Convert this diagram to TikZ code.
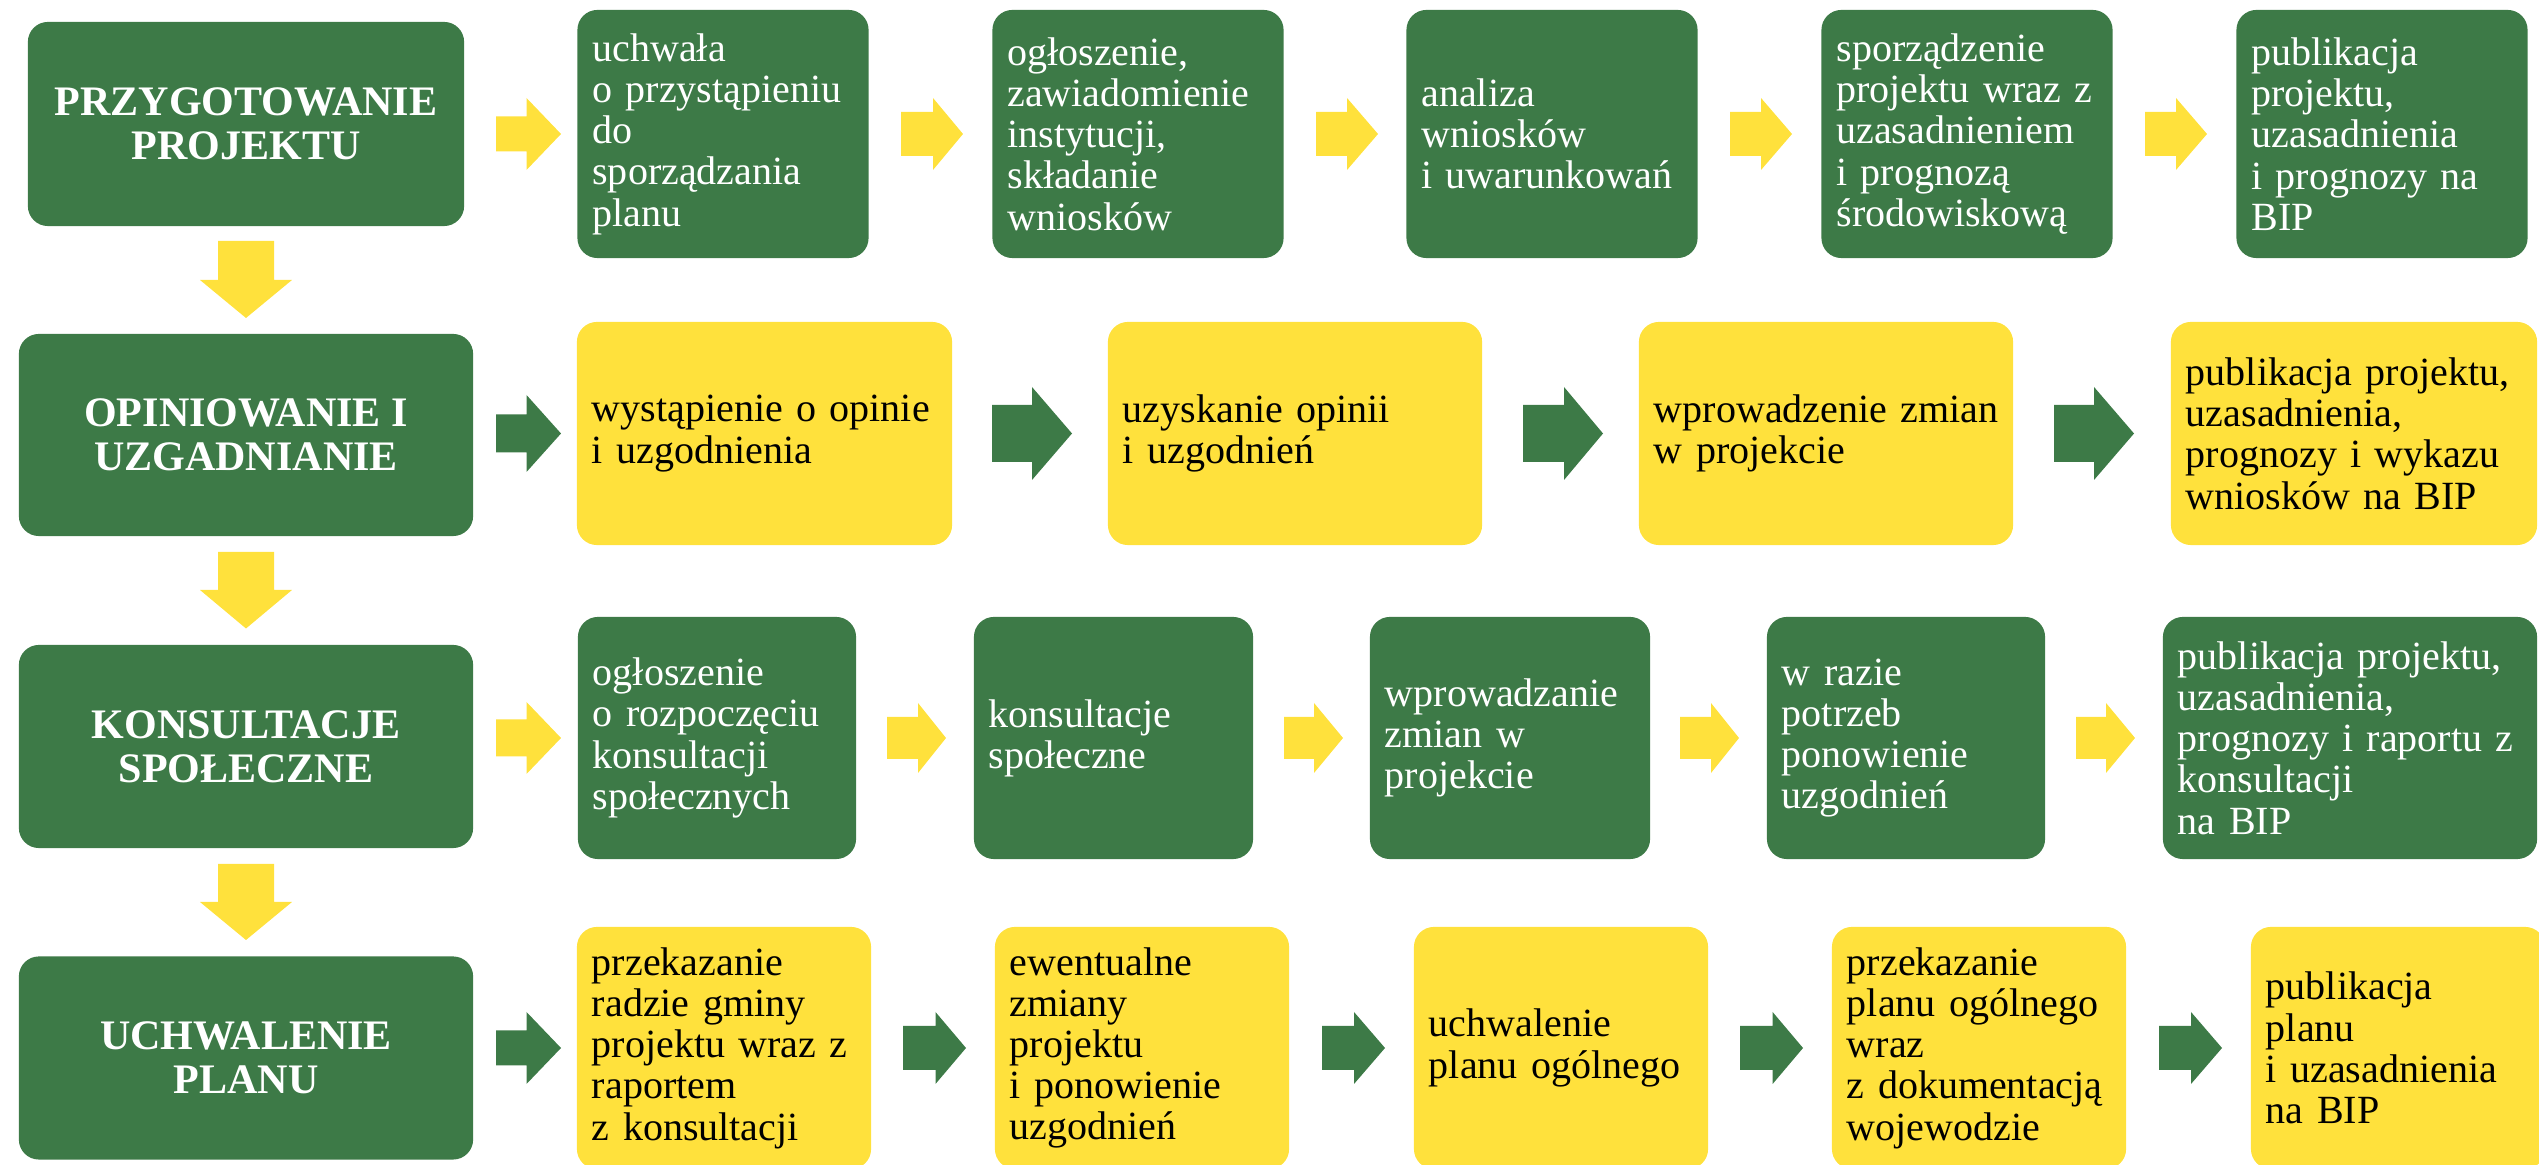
\documentclass[tikz,border=0pt]{standalone}
\usepackage{fontspec}
\setmainfont{Liberation Serif}
\definecolor{zielony}{RGB}{61,122,71}
\definecolor{zolty}{RGB}{255,225,60}

% block arrows: colour, tail x, head x, tip x, mid y, shaft half, head half
\newcommand{\rblock}[7]{%
  \fill[#1] (#2,#5-#6) -- (#3,#5-#6) -- (#3,#5-#7) -- (#4,#5)
    -- (#3,#5+#7) -- (#3,#5+#6) -- (#2,#5+#6) -- cycle;}
% down arrows below the stage boxes: top y, head y, tip y
\newcommand{\dblock}[3]{%
  \fill[zolty] (218,#1) -- (274,#1) -- (274,#2) -- (292,#2) -- (246,#3)
    -- (200,#2) -- (218,#2) -- cycle;}

\tikzset{
  stage/.style = {rectangle, rounded corners=0.2cm, fill=zielony, text=white,
    inner sep=0pt, align=center,
    font=\bfseries\fontsize{11.95}{12.6}\selectfont},
  krok/.style = {rectangle, rounded corners=0.2cm, inner sep=0pt, align=left,
    font=\fontsize{11.38}{11.72}\selectfont},
  gkrok/.style = {krok, fill=zielony, text=white},
  ykrok/.style = {krok, fill=zolty, text=black},
}

\begin{document}
\begin{tikzpicture}[x=0.01cm, y=-0.01cm]
  \useasboundingbox (0,0) rectangle (2539,1165);

  % stages
  \node[stage, minimum width=4.36cm, minimum height=2.04cm] (etap1) at (246,124)
    {PRZYGOTOWANIE\\PROJEKTU};
  \node[stage, minimum width=4.54cm, minimum height=2.02cm] (etap2) at (246,435)
    {OPINIOWANIE I\\UZGADNIANIE};
  \node[stage, minimum width=4.54cm, minimum height=2.03cm] (etap3) at (246,746.5)
    {KONSULTACJE\\SPOŁECZNE};
  \node[stage, minimum width=4.54cm, minimum height=2.03cm] (etap4) at (246,1058)
    {UCHWALENIE\\PLANU};

  \dblock{241}{280}{318}
  \dblock{552}{590}{628.5}
  \dblock{864}{902}{940}

  % row 1
  \tikzset{every node/.append style={minimum width=2.91cm, minimum height=2.48cm, text width=2.61cm}}
  \node[gkrok] (k11) at (723,134) {uchwała\\o przystąpieniu\\do\\sporządzania\\planu};
  \node[gkrok] (k12) at (1138,134) {ogłoszenie,\\zawiadomienie\\instytucji,\\składanie\\wniosków};
  \node[gkrok] (k13) at (1552,134) {analiza\\wniosków\\i uwarunkowań};
  \node[gkrok] (k14) at (1967,134) {sporządzenie\\projektu wraz z\\uzasadnieniem\\i prognozą\\środowiskową};
  \node[gkrok] (k15) at (2382,134) {publikacja\\projektu,\\uzasadnienia\\i prognozy na\\BIP};

  \rblock{zolty}{496}{526.5}{561}{134}{17.5}{36}
  \rblock{zolty}{901}{933}{963}{134}{22}{36}
  \rblock{zolty}{1316}{1347}{1378}{134}{22}{36}
  \rblock{zolty}{1730}{1761}{1792}{134}{22}{36}
  \rblock{zolty}{2145}{2176}{2207}{134}{22}{36}

  % row 2
  \node[ykrok, minimum width=3.75cm, minimum height=2.23cm, text width=3.45cm] (k21) at (764.5,433.5)
    {wystąpienie o opinie\\i uzgodnienia};
  \node[ykrok, minimum width=3.74cm, minimum height=2.23cm, text width=3.44cm] (k22) at (1295,433.5)
    {uzyskanie opinii\\i uzgodnień};
  \node[ykrok, minimum width=3.74cm, minimum height=2.23cm, text width=3.44cm] (k23) at (1826,433.5)
    {wprowadzenie~zmian\\w projekcie};
  \node[ykrok, minimum width=3.66cm, minimum height=2.23cm, text width=3.36cm] (k24) at (2354,433.5)
    {publikacja projektu,\\uzasadnienia,\\prognozy i wykazu\\wniosków na BIP};

  \rblock{zielony}{496}{526.5}{561}{433.5}{19}{38.5}
  \rblock{zielony}{992}{1032}{1072}{433.5}{28.5}{46.5}
  \rblock{zielony}{1523}{1564}{1603}{433.5}{28.5}{46.5}
  \rblock{zielony}{2054}{2094}{2134}{433.5}{28.5}{46.5}

  % row 3
  \node[gkrok, minimum width=2.78cm, minimum height=2.42cm, text width=2.48cm] (k31) at (717,738)
    {ogłoszenie\\o rozpoczęciu\\konsultacji\\społecznych};
  \node[gkrok, minimum width=2.79cm, minimum height=2.42cm, text width=2.49cm] (k32) at (1113.5,738)
    {konsultacje\\społeczne};
  \node[gkrok, minimum width=2.80cm, minimum height=2.42cm, text width=2.50cm] (k33) at (1510,738)
    {wprowadzanie\\zmian w\\projekcie};
  \node[gkrok, minimum width=2.78cm, minimum height=2.42cm, text width=2.48cm] (k34) at (1906,738)
    {w razie\\potrzeb\\ponowienie\\uzgodnień};
  \node[gkrok, minimum width=3.74cm, minimum height=2.42cm, text width=3.44cm] (k35) at (2350,738)
    {publikacja projektu,\\uzasadnienia,\\prognozy i raportu z\\konsultacji\\na BIP};

  \rblock{zolty}{496}{526.5}{561}{738}{18.5}{36}
  \rblock{zolty}{887}{918}{946}{738}{21}{35}
  \rblock{zolty}{1284}{1314}{1343}{738}{21}{35}
  \rblock{zolty}{1680}{1711}{1739}{738}{21}{35}
  \rblock{zolty}{2076}{2106}{2135}{738}{21}{35}

  % row 4
  \tikzset{every node/.append style={minimum width=2.94cm, minimum height=2.42cm, text width=2.64cm}}
  \node[ykrok] (k41) at (724,1048) {przekazanie\\radzie gminy\\projektu wraz z\\raportem\\z konsultacji};
  \node[ykrok] (k42) at (1142,1048) {ewentualne\\zmiany\\projektu\\i ponowienie\\uzgodnień};
  \node[ykrok] (k43) at (1561,1048) {uchwalenie\\planu ogólnego};
  \node[ykrok] (k44) at (1979,1048) {przekazanie\\planu ogólnego\\wraz\\z dokumentacją\\wojewodzie};
  \node[ykrok] (k45) at (2398,1048) {publikacja\\planu\\i uzasadnienia\\na BIP};

  \rblock{zielony}{496}{526.5}{561}{1048}{17.5}{36}
  \rblock{zielony}{903}{935.5}{966}{1048}{22}{36}
  \rblock{zielony}{1322}{1354}{1385}{1048}{22}{36}
  \rblock{zielony}{1740}{1772.6}{1803}{1048}{22}{36}
  \rblock{zielony}{2159}{2191}{2222}{1048}{22}{36}
\end{tikzpicture}
\end{document}
